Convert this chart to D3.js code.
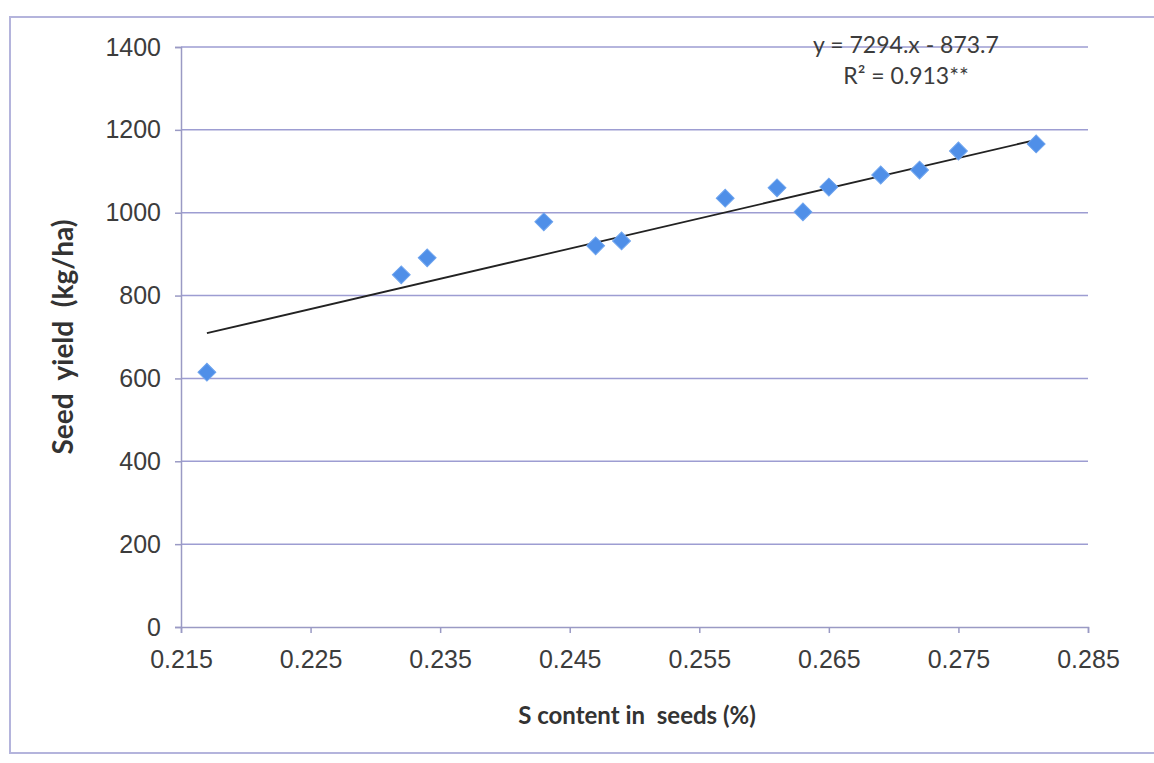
<!DOCTYPE html>
<html>
<head>
<meta charset="utf-8">
<script src="https://cdn.jsdelivr.net/npm/d3@7"></script>
<style>
  body { margin: 0; background: #fff; }
  svg { display: block; font-family: Lato, 'Open Sans', sans-serif; }
  .tick text { fill: #3c3c3c; font-size: 25px; }
</style>
</head>
<body>
<svg width="1154" height="763"></svg>
<script>
(function() {
  'use strict';

  // S content in seeds (%) and seed yield (kg/ha)
  const sContent = [0.217, 0.232, 0.234, 0.243, 0.247, 0.249, 0.257,
    0.261, 0.263, 0.265, 0.269, 0.272, 0.275, 0.281];
  const seedYield = [615, 850, 891, 978, 920, 932, 1035,
    1060, 1002, 1062, 1091, 1103, 1149, 1166];

  const xTicks = [0.215, 0.225, 0.235, 0.245, 0.255, 0.265, 0.275, 0.285];
  const yTicks = [0, 200, 400, 600, 800, 1000, 1200, 1400];

  // trendline as printed on the chart
  const trend = {slope: 7294, intercept: -873.7};
  const trendLabels = ['y = 7294.x - 873.7', 'R² = 0.913**'];

  const margin = {top: 47, right: 66, bottom: 136, left: 181};

  const svg = d3.select('svg');
  const width = +svg.attr('width') - margin.left - margin.right;
  const height = +svg.attr('height') - margin.top - margin.bottom;

  // outer chart frame
  svg.append('rect')
      .attr('x', 10)
      .attr('y', 17)
      .attr('width', 1160)
      .attr('height', 736)
      .attr('fill', 'none')
      .attr('stroke', '#b4b4dc')
      .attr('stroke-width', 2);

  const g = svg.append('g')
      .attr('transform', 'translate(' + margin.left + ',' + margin.top + ')');

  const x = d3.scaleLinear()
      .domain([0.215, 0.285])
      .range([0, width]);

  const y = d3.scaleLinear()
      .domain([0, 1400])
      .range([height, 0]);

  // horizontal gridlines
  g.append('g')
      .selectAll('line')
      .data(yTicks.filter((d) => d > 0))
      .join('line')
      .attr('x1', 0)
      .attr('x2', width)
      .attr('y1', (d) => y(d))
      .attr('y2', (d) => y(d))
      .attr('stroke', '#9d9dd2')
      .attr('stroke-width', 1.5);

  const yAxis = g.append('g')
      .call(d3.axisLeft(y)
          .tickValues(yTicks)
          .tickSize(6)
          .tickPadding(14)
          .tickFormat(d3.format('d')));

  const xAxis = g.append('g')
      .attr('transform', 'translate(0,' + height + ')')
      .call(d3.axisBottom(x)
          .tickValues(xTicks)
          .tickSize(6)
          .tickPadding(17)
          .tickFormat(d3.format('.3f')));

  [xAxis, yAxis].forEach((a) => {
    a.select('.domain').attr('stroke', '#9a9ac4').attr('stroke-width', 1.5);
    a.selectAll('.tick line').attr('stroke', '#9a9ac4').attr('stroke-width', 1.5);
  });
  xAxis.selectAll('.tick text').attr('dy', '0.71em');

  // trendline
  const xr = d3.extent(sContent);
  g.append('line')
      .attr('x1', x(xr[0]))
      .attr('y1', y(trend.slope * xr[0] + trend.intercept))
      .attr('x2', x(xr[1]))
      .attr('y2', y(trend.slope * xr[1] + trend.intercept))
      .attr('stroke', '#222')
      .attr('stroke-width', 1.8);

  // diamond markers
  const diamond = d3.symbol().type(d3.symbolSquare).size(160);
  g.append('g')
      .selectAll('path')
      .data(d3.zip(sContent, seedYield))
      .join('path')
      .attr('d', diamond)
      .attr('transform', (d) =>
        'translate(' + x(d[0]) + ',' + y(d[1]) + ') rotate(45)')
      .attr('fill', '#4f8fe8')
      .attr('stroke', '#6ea4ee')
      .attr('stroke-width', 1);

  // equation
  svg.append('text')
      .attr('x', 906)
      .attr('y', 47)
      .attr('text-anchor', 'middle')
      .attr('dominant-baseline', 'middle')
      .attr('fill', '#3c3c3c')
      .attr('font-size', 23)
      .selectAll('tspan')
      .data(trendLabels)
      .join('tspan')
      .attr('x', 906)
      .attr('dy', (d, i) => i === 0 ? 0 : 31)
      .text((d) => d);

  // axis titles
  svg.append('text')
      .attr('x', 637)
      .attr('y', 718)
      .attr('text-anchor', 'middle')
      .attr('dominant-baseline', 'middle')
      .attr('font-weight', 'bold')
      .attr('font-size', 24)
      .attr('fill', '#333')
      .attr('xml:space', 'preserve')
      .text('S content in  seeds (%)');

  svg.append('text')
      .attr('transform', 'translate(66,337) rotate(-90)')
      .attr('text-anchor', 'middle')
      .attr('dominant-baseline', 'middle')
      .attr('font-weight', 'bold')
      .attr('font-size', 28)
      .attr('fill', '#333')
      .attr('xml:space', 'preserve')
      .text('Seed  yield  (kg/ha)');
})();
</script>
</body>
</html>
